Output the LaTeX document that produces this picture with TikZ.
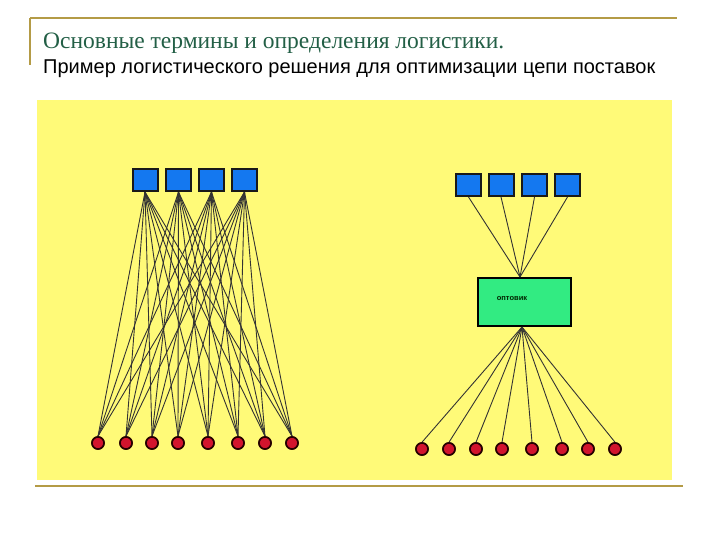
\documentclass[tikz,border=0pt]{standalone}
\usepackage{fontspec}
\setmainfont{Liberation Serif}
\newfontfamily\arialf{Liberation Sans}
\definecolor{bgyellow}{RGB}{255,250,120}
\definecolor{boxblue}{RGB}{20,120,240}
\definecolor{boxgreen}{RGB}{50,235,130}
\definecolor{dotred}{RGB}{210,20,45}
\definecolor{framegold}{RGB}{180,155,70}
\definecolor{titlegreen}{RGB}{35,95,70}
\begin{document}
\begin{tikzpicture}[x=1pt,y=-1pt,
  sup/.style={draw=black!90,line width=2pt,fill=boxblue,minimum width=25pt,minimum height=22pt,inner sep=0pt},
  cust/.style={circle,draw=black!85!red,line width=1.6pt,fill=dotred,minimum size=12pt,inner sep=0pt},
  whole/.style={draw=black,line width=2pt,fill=boxgreen,minimum width=93pt,minimum height=48pt,inner sep=0pt},
  link/.style={draw=black!80,line width=0.9pt},
  frame/.style={draw=framegold,line width=2.2pt}]
\useasboundingbox (0,0) rectangle (720,540);
% frame
\draw[frame] (30,18) -- (677,18);
\draw[frame] (30,18) -- (30,65);
\draw[frame] (35,486) -- (683,486);
\fill[bgyellow] (37,100) rectangle (672,480);
% titles
\node[anchor=base west,inner sep=0pt,text=titlegreen,font=\fontsize{23.5}{25}\selectfont] (t1) at (43,49) {Основные термины и определения логистики.};
\node[anchor=base west,inner sep=0pt,font=\arialf\fontsize{20}{22}\selectfont] (t2) at (43,74) {Пример логистического решения для оптимизации цепи поставок};
% left group
\foreach \i/\x in {1/145,2/178.5,3/211.5,4/244.5}
  \node[sup] (L\i) at (\x,180) {};
\foreach \j/\x in {1/98,2/126,3/152,4/178,5/208,6/238,7/265,8/292}
  \node[cust] (LC\j) at (\x,443) {};
\foreach \i in {1,...,4}
  \foreach \j in {1,...,8}
    \draw[link] (L\i.south) -- (LC\j.north);
\foreach \i/\x in {1/145,2/178.5,3/211.5,4/244.5}
  \node[sup] at (\x,180) {};
\foreach \j/\x in {1/98,2/126,3/152,4/178,5/208,6/238,7/265,8/292}
  \node[cust] at (\x,443) {};
% right group
\foreach \i/\x in {1/468.5,2/501,3/534.5,4/567.5}
  \node[sup] (R\i) at (\x,185) {};
\node[whole] (W) at (524,302) {};
\node[font=\arialf\bfseries\fontsize{7.5}{8}\selectfont,text=black!85!green] (Wt) at (512,299) {оптовик};
\foreach \j/\x in {1/422,2/449,3/476,4/502,5/532,6/562,7/588,8/615}
  \node[cust] (RC\j) at (\x,449) {};
\foreach \i in {1,...,4}
  \draw[link] (R\i.south) -- ([xshift=-4pt]W.north);
\foreach \j in {1,...,8}
  \draw[link] ([xshift=-2pt]W.south) -- (RC\j.north);
\foreach \j/\x in {1/422,2/449,3/476,4/502,5/532,6/562,7/588,8/615}
  \node[cust] at (\x,449) {};
\end{tikzpicture}
\end{document}
